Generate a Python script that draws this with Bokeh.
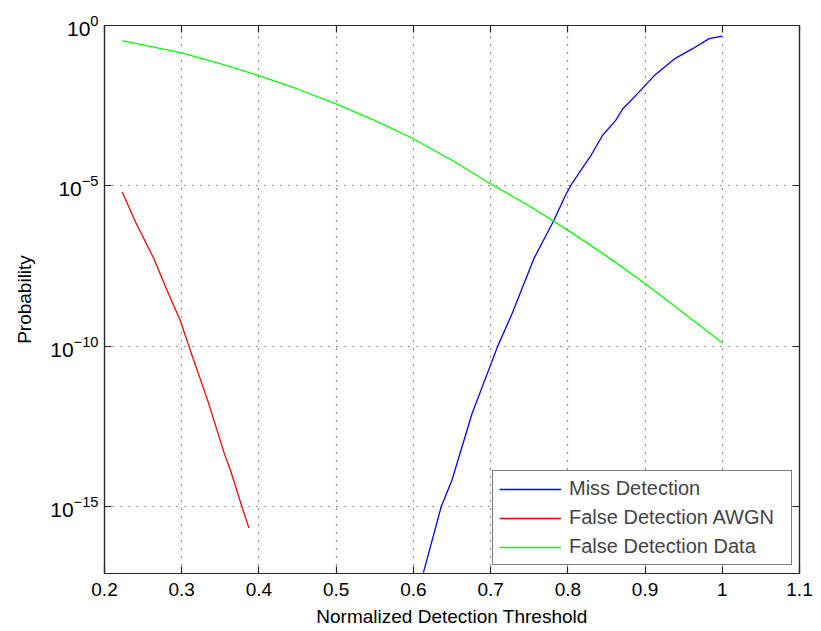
from bokeh.plotting import figure
from bokeh.models import (Range1d, FixedTicker, LogAxis, LinearAxis, Legend,
                          LegendItem, ColumnDataSource, CustomJSTickFormatter)
from bokeh.embed import file_html
from bokeh.resources import INLINE

# ---- data ----
thr_miss = [0.613, 0.636, 0.650, 0.676, 0.709, 0.728, 0.756, 0.782, 0.797,
            0.804, 0.817, 0.830, 0.845, 0.862, 0.871, 0.890, 0.912, 0.938,
            0.961, 0.983, 1.000]
p_miss = [8.9e-18, 1.0e-15, 6.8e-15, 8.1e-13, 9.8e-11, 1.07e-09, 5.4e-08,
          8.5e-07, 5.1e-06, 1.05e-05, 3.1e-05, 8.9e-05, 3.8e-04, 1.1e-03,
          2.5e-03, 7.4e-03, 2.75e-02, 9.1e-02, 1.86e-01, 3.9e-01, 4.7e-01]

thr_awgn = [0.223, 0.240, 0.264, 0.281, 0.298, 0.311, 0.333, 0.355, 0.363,
            0.378, 0.387]
p_awgn = [6.5e-06, 7.6e-07, 5.4e-08, 5.6e-09, 6.5e-10, 7.6e-11, 2.3e-12,
          4.7e-14, 1.4e-14, 1.0e-15, 2.2e-16]

thr_data = [0.223, 0.25, 0.30, 0.35, 0.40, 0.45, 0.50, 0.55, 0.60, 0.65, 0.70,
            0.75, 0.80, 0.85, 0.90, 0.95, 1.00]
p_data = [3.4e-01, 2.5e-01, 1.4e-01, 6.5e-02, 2.75e-02, 1.05e-02, 3.6e-03,
          1.1e-03, 2.95e-04, 6.3e-05, 1.17e-05, 2.4e-06, 4.2e-07, 6.6e-08,
          9.1e-09, 1.1e-09, 1.3e-10]

x_ticks = [0.2, 0.3, 0.4, 0.5, 0.6, 0.7, 0.8, 0.9, 1.0, 1.1]
x_tick_labels = ["0.2", "0.3", "0.4", "0.5", "0.6", "0.7", "0.8", "0.9", "1", "1.1"]
y_ticks = [1e-15, 1e-10, 1e-5, 1e0]

series_names = ["Miss Detection", "False Detection AWGN", "False Detection Data"]
series_colors = ["#0000ff", "#ff0000", "#00ff00"]

FONT = "Liberation Sans"
AX_COLOR = "#262626"

p = figure(width=821, height=631,
           x_range=Range1d(0.2, 1.1), y_range=Range1d(10 ** -17.08, 1.0),
           y_axis_type="log", output_backend="svg", toolbar_location=None,
           min_border_left=104, min_border_right=22, min_border_top=25,
           min_border_bottom=58)
p.background_fill_color = "white"
p.border_fill_color = "white"
p.outline_line_color = AX_COLOR
p.outline_line_width = 1.2

# axes
xax = p.xaxis[0]
yax = p.yaxis[0]
xax.ticker = FixedTicker(ticks=x_ticks)
xax.major_label_overrides = {t: l for t, l in zip(x_ticks, x_tick_labels)}
yax.ticker = FixedTicker(ticks=y_ticks)
for ax in (xax, yax):
    ax.major_tick_in = 7
    ax.major_tick_out = 0
    ax.minor_tick_in = 0
    ax.minor_tick_out = 0
    ax.axis_line_color = AX_COLOR
    ax.axis_line_width = 1.2
    ax.major_tick_line_color = AX_COLOR
    ax.major_tick_line_width = 1.2
    ax.major_label_text_font = FONT
    ax.major_label_text_color = "black"
    ax.axis_label_text_font = FONT
    ax.axis_label_text_font_size = "19px"
    ax.axis_label_text_font_style = "normal"
    ax.axis_label_text_color = "black"
xax.major_label_text_font_size = "19px"
yax.major_label_text_font_size = "21px"
xax.axis_label = "Normalized Detection Threshold"
yax.axis_label = "Probability"
xax.major_label_standoff = 9
xax.axis_label_standoff = 7
yax.major_label_standoff = 6
yax.axis_label_standoff = 12

blank = CustomJSTickFormatter(code="return ''")
top = LinearAxis(ticker=FixedTicker(ticks=x_ticks), formatter=blank,
                 major_tick_in=7, major_tick_out=0, minor_tick_in=0,
                 minor_tick_out=0, axis_line_color=AX_COLOR,
                 axis_line_width=1.2, major_tick_line_width=1.2,
                 major_tick_line_color=AX_COLOR, major_label_standoff=0)
right = LogAxis(ticker=FixedTicker(ticks=y_ticks), formatter=blank,
                major_tick_in=7, major_tick_out=0, minor_tick_in=0,
                minor_tick_out=0, axis_line_color=AX_COLOR,
                axis_line_width=1.2, major_tick_line_width=1.2,
                major_tick_line_color=AX_COLOR, major_label_standoff=0)
p.add_layout(top, "above")
p.add_layout(right, "right")

# grid
p.xgrid.ticker = FixedTicker(ticks=x_ticks)
p.ygrid.ticker = FixedTicker(ticks=y_ticks)
for g in (p.xgrid, p.ygrid):
    g.grid_line_color = "black"
    g.grid_line_alpha = 0.85
    g.grid_line_dash = "1 7"
    g.grid_line_width = 1.2

renderers = []
for xs, ys, c in ((thr_miss, p_miss, series_colors[0]),
                  (thr_awgn, p_awgn, series_colors[1]),
                  (thr_data, p_data, series_colors[2])):
    src = ColumnDataSource(dict(x=xs, y=ys))
    renderers.append(p.line("x", "y", source=src, line_color=c, line_width=1.3))

legend = Legend(items=[LegendItem(label=n, renderers=[r])
                       for n, r in zip(series_names, renderers)],
                location=(388, 8), label_text_font=FONT,
                label_text_font_size="20px", glyph_width=62, glyph_height=22,
                label_height=22, label_width=216, spacing=6, padding=6,
                margin=0, label_standoff=8, border_line_color="black",
                border_line_width=1.2, background_fill_color="white",
                background_fill_alpha=1.0)
p.add_layout(legend, "center")

open("out.html", "w").write(file_html(p, INLINE))
